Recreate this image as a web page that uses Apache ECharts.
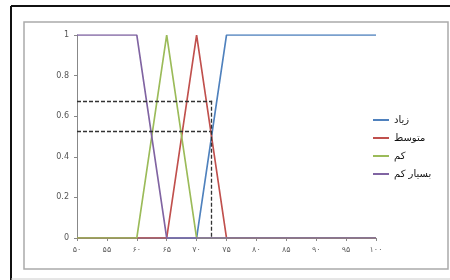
<!DOCTYPE html>
<html>
<head>
<meta charset="utf-8">
<script src="https://cdn.jsdelivr.net/npm/echarts@6/dist/echarts.min.js"></script>
<style>
  html, body { margin: 0; padding: 0; background: #fff; }
  #chart { width: 450px; height: 280px; }
</style>
</head>
<body>
<div id="chart"></div>
<script>
// x positions and their Persian tick labels
let xValues = [50, 55, 60, 65, 70, 75, 80, 85, 90, 95, 100];
let xLabels = ['۵۰', '۵۵', '۶۰', '۶۵', '۷۰', '۷۵', '۸۰', '۸۵', '۹۰', '۹۵', '۱۰۰'];

let seriesNames = ['زیاد', 'متوسط', 'کم', 'بسیار کم'];
let ziad = [0, 0, 0, 0, 0, 1, 1, 1, 1, 1, 1];
let motevaset = [0, 0, 0, 0, 1, 0, 0, 0, 0, 0, 0];
let kam = [0, 0, 0, 1, 0, 0, 0, 0, 0, 0, 0];
let besiarKam = [1, 1, 1, 0, 0, 0, 0, 0, 0, 0, 0];

// dashed guide lines
let guideLevels = [0.676, 0.524];
let guideEnds = [72.6, 72.3];
let guideX = 72.5;

let colors = ['#4F81BD', '#C0504D', '#9BBB59', '#8064A2'];

function pairs(values) {
    return xValues.map(function (x, i) {
        return [x, values[i]];
    });
}

let chart = echarts.init(document.getElementById('chart'));

let guideLines = [];
for (let i = 0; i < guideLevels.length; i++) {
    guideLines.push([{ coord: [50, guideLevels[i]] }, { coord: [guideEnds[i], guideLevels[i]] }]);
}
guideLines.push([{ coord: [guideX, guideLevels[0]] }, { coord: [guideX, 0] }]);

let allSeries = [ziad, motevaset, kam, besiarKam].map(function (values, i) {
    return {
        name: seriesNames[i],
        type: 'line',
        data: pairs(values),
        symbol: 'none',
        lineStyle: { width: 1.7, color: colors[i] },
        itemStyle: { color: colors[i] },
        animation: false
    };
});
allSeries.push({
    name: 'guide',
    type: 'line',
    data: [],
    symbol: 'none',
    animation: false,
    markLine: {
        silent: true,
        symbol: ['none', 'none'],
        label: { show: false },
        lineStyle: { type: [4, 2], color: '#333', width: 1.3 },
        data: guideLines
    }
});

let option = {
    backgroundColor: '#fff',
    animation: false,
    grid: { left: 77, right: 74, top: 35, bottom: 42 },
    legend: {
        data: seriesNames,
        orient: 'vertical',
        left: 367,
        top: 110,
        itemWidth: 16,
        itemHeight: 2,
        itemGap: 8,
        textStyle: { fontFamily: 'DejaVu Sans', fontSize: 10, color: '#111' }
    },
    xAxis: {
        type: 'value',
        min: 50,
        max: 100,
        interval: 5,
        splitLine: { show: false },
        axisLine: { lineStyle: { color: '#888', width: 1 } },
        axisTick: { show: true, length: 3, lineStyle: { color: '#888' } },
        axisLabel: {
            fontFamily: 'DejaVu Sans',
            fontSize: 8,
            color: '#666',
            margin: 8,
            formatter: function (value) {
                return xLabels[xValues.indexOf(value)];
            }
        }
    },
    yAxis: {
        type: 'value',
        min: 0,
        max: 1,
        interval: 0.2,
        splitLine: { show: false },
        axisLine: { show: true, lineStyle: { color: '#888', width: 1 } },
        axisTick: { show: true, length: 3, lineStyle: { color: '#888' } },
        axisLabel: {
            fontFamily: 'DejaVu Sans',
            fontSize: 8,
            color: '#555',
            margin: 8
        }
    },
    graphic: [
        // outer black frame
        { type: 'line', shape: { x1: 11, y1: 6, x2: 450, y2: 6 }, style: { stroke: '#111', lineWidth: 2 } },
        { type: 'line', shape: { x1: 11, y1: 6, x2: 11, y2: 280 }, style: { stroke: '#111', lineWidth: 2 } },
        { type: 'line', shape: { x1: 11, y1: 279, x2: 450, y2: 279 }, style: { stroke: '#ccc', lineWidth: 1 } },
        // inner gray frame
        { type: 'rect', shape: { x: 24, y: 22, width: 424, height: 247 }, style: { fill: 'none', stroke: '#aaa', lineWidth: 1.5 } }
    ],
    series: allSeries
};
chart.setOption(option);
</script>
</body>
</html>
